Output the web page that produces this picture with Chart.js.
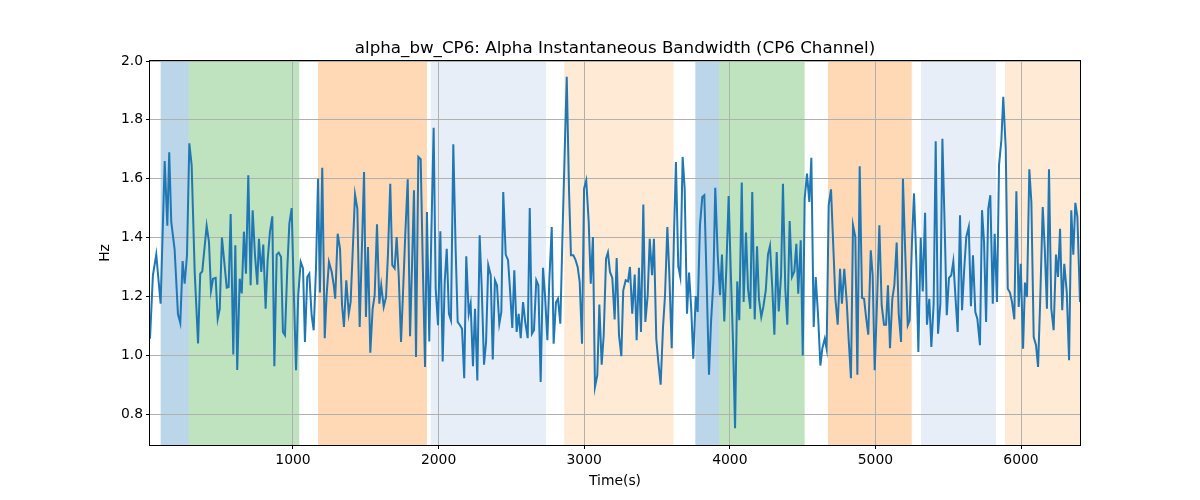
<!DOCTYPE html>
<html><head><meta charset="utf-8">
<script src="https://cdn.jsdelivr.net/npm/chart.js@4.4.0/dist/chart.umd.min.js"></script>
<style>html,body{margin:0;padding:0;background:#fff}</style>
</head><body>
<canvas id="c" width="1200" height="500"></canvas>
<script>
const titleText = 'alpha_bw_CP6: Alpha Instantaneous Bandwidth (CP6 Channel)';
const xLabel = 'Time(s)';
const yLabel = 'Hz';

const timeS = [18,38,61,91,119,137,150,164,187,210,226,242,256,272,288,304,325,348,363,377,407,423,437,451,469,483,497,512,545,558,572,590,604,617,634,648,663,
677,693,709,723,739,755,766,782,796,812,826,842,858,872,888,902,918,931,945,961,975,991,1005,1021,1036,1053,1069,1082,1098,1112,1128,1142,1158,1172,1185,1201,1218,1231,1247,1266,
1280,1290,1307,1323,1337,1350,1366,1383,1396,1410,1426,1442,1458,1488,1501,1515,1531,1547,1561,1577,1593,1606,1623,1639,1652,1668,1682,1698,1712,1726,1742,1755,1771,1788,1804,1817,1831,1845,1861,1877,1891,1907,1920,
1936,1950,1966,1980,1996,2012,2028,2042,2056,2071,2085,2101,2117,2131,2147,2161,2176,2190,2207,2220,2236,2250,2266,2282,2296,2312,2326,2341,2358,2372,2387,2401,2417,2431,2444,2461,2477,2490,2506,2520,2536,2550,
2564,2580,2595,2612,2626,2641,2655,2671,2685,2701,2717,2731,2747,2760,2777,2790,2806,2820,2836,2852,2866,2880,2896,2909,2925,2939,2955,2969,2985,2999,3014,3031,3045,3060,3074,3090,3104,3120,3134,3150,3163,
3177,3193,3209,3223,3239,3255,3268,3285,3301,3314,3330,3347,3360,3376,3390,3406,3420,3436,3450,3466,3479,3495,3509,3525,3541,3555,3571,3584,3601,3617,3630,3646,3660,3676,3690,3706,3720,3735,3749,3766,3779,3795,3811,
3825,3841,3857,3871,3887,3900,3917,3933,3946,3962,3976,3992,4006,4022,4036,4051,4065,4082,4095,4111,4125,4141,4154,4171,4187,4200,4216,4230,4247,4262,4276,4292,4306,4322,4336,4352,4365,4381,4395,4411,4427,4443,
4457,4470,4487,4501,4514,4530,4546,4560,4576,4590,4606,4622,4635,4652,4665,4679,4695,4709,4725,4741,4757,4770,4786,4803,4816,4832,4846,4862,4876,4892,4908,4922,4937,4951,4968,4981,4995,5011,5027,5043,5059,5073,
5086,5100,5116,5130,5146,5160,5176,5189,5205,5222,5235,5251,5265,5281,5295,5311,5325,5341,5354,5370,5384,5400,5414,5430,5446,5460,5476,5490,5505,5521,5535,5551,5565,5581,5595,5610,5624,5641,5656,5670,5686,5700,
5718,5732,5746,5760,5775,5789,5806,5819,5835,5849,5865,5878,5895,5909,5924,5938,5954,5968,5984,5998,6014,6027,6041,6057,6071,6087,6103,6117,6132,6149,6163,6178,6192,6208,6224,6240,6254,6268,6283,6297,6314,6330,6345,6359,6373,6387,6405];

const bwHz = [1.056,1.272,1.342,1.175,1.66,1.44,1.69,1.453,1.36,1.14,1.11,1.32,1.243,1.34,1.72,1.646,1.283,1.04,1.277,1.285,1.44,1.385,1.22,1.26,1.263,1.124,1.158,1.4,1.23,1.232,1.48,1.003,1.374,0.95,1.26,1.21,1.42,
1.277,1.612,1.238,1.493,1.34,1.24,1.396,1.283,1.376,1.158,1.323,1.42,1.472,0.963,1.342,1.349,1.334,1.079,1.068,1.295,1.447,1.5,1.226,0.949,1.204,1.317,1.295,1.045,1.266,1.277,1.136,1.085,1.295,1.6,1.213,1.637,1.058,1.204,1.317,1.283,
1.238,1.192,1.413,1.362,1.17,1.096,1.255,1.141,1.181,1.351,1.546,1.498,1.096,1.623,1.13,1.368,1.009,1.158,1.204,1.445,1.175,1.238,1.164,1.198,1.34,1.583,1.306,1.295,1.402,1.272,1.045,1.204,1.408,1.598,1.065,1.295,1.561,0.994,1.674,1.666,1.317,0.96,1.487,
1.047,1.408,1.773,1.226,1.102,1.421,0.979,1.249,1.362,1.141,1.119,1.717,1.362,1.113,1.102,1.09,0.922,1.336,1.141,1.175,0.963,1.158,0.914,1.408,1.232,0.968,1.045,1.306,1.272,0.986,1.255,1.238,1.107,1.147,1.555,1.342,1.323,1.226,1.093,1.289,1.079,1.141,
1.058,1.181,1.113,1.058,1.5,1.073,1.085,1.255,1.238,0.909,1.297,1.204,1.051,1.249,1.436,1.039,1.179,1.192,1.107,1.43,1.691,1.946,1.555,1.34,1.34,1.326,1.3,1.249,1.039,1.566,1.594,1.453,1.243,1.402,0.892,0.932,1.172,0.968,1.068,1.328,1.349,
1.283,1.263,1.122,1.33,1.068,0.997,1.22,1.255,1.251,1.3,1.141,1.274,1.051,1.297,1.079,1.512,1.113,1.204,1.396,1.272,1.396,1.056,0.977,0.9,1.093,1.204,1.436,1.283,1.024,1.419,1.657,1.303,1.266,1.674,1.566,1.141,1.281,1.158,0.988,1.201,1.147,1.442,1.538,
1.544,1.249,0.934,1.113,1.249,1.569,1.34,1.204,1.342,1.115,1.294,1.541,1.294,1.045,0.752,1.251,1.119,1.587,1.181,1.417,1.226,1.158,1.555,1.122,1.37,1.192,1.13,1.164,1.22,1.342,1.372,1.226,1.07,1.351,1.149,1.272,1.583,1.226,1.104,1.456,1.266,1.285,
1.379,1.209,1.391,0.999,1.532,1.617,1.521,1.671,1.096,1.266,1.136,0.965,1.022,1.056,1.022,1.51,1.564,1.391,1.192,1.104,1.294,1.175,1.294,1.181,1.056,0.922,1.442,1.402,0.934,1.642,1.195,1.192,1.124,1.07,1.357,1.272,0.949,1.181,1.442,1.17,1.104,1.104,
1.238,1.024,1.192,1.238,1.383,1.141,1.045,1.6,1.345,1.102,1.119,1.385,1.55,1.319,1.011,1.399,1.217,1.484,1.104,1.192,1.028,1.175,1.727,1.073,1.175,1.736,1.43,1.136,1.263,1.272,1.319,1.187,1.079,1.476,1.153,1.294,1.402,1.436,1.167,1.34,1.147,1.124,
1.034,1.493,1.385,1.113,1.498,1.544,1.175,1.413,1.181,1.646,1.731,1.878,1.702,1.226,1.213,1.181,1.122,1.557,1.164,1.311,1.022,1.247,1.198,1.632,1.521,1.062,1.034,0.96,1.192,1.504,1.362,1.158,1.632,1.158,1.085,1.342,1.266,1.43,1.153,1.311,1.215,0.983,1.493,1.342,1.518,1.47,1.181];

const spanStart = [91, 285, 1172, 1946, 2863, 3763, 3928, 4674, 5313, 5890];
const spanEnd   = [285, 1043, 1920, 2738, 3614, 3928, 4514, 5249, 5828, 6405];
const spanColor = ['rgba(31,119,180,0.3)','rgba(44,160,44,0.3)','rgba(255,127,14,0.3)','rgba(174,199,232,0.3)','rgba(255,187,120,0.3)',
                   'rgba(31,119,180,0.3)','rgba(44,160,44,0.3)','rgba(255,127,14,0.3)','rgba(174,199,232,0.3)','rgba(255,187,120,0.3)'];

const xTicks = [1000, 2000, 3000, 4000, 5000, 6000];
const yTicks = [0.8, 1.0, 1.2, 1.4, 1.6, 1.8, 2.0];
const xRange = [18, 6405];
const yRange = [0.695, 2.0];

const FONT = "'DejaVu Sans', sans-serif";

const decor = {
  id: 'decor',
  beforeDraw(chart) {
    const {ctx, chartArea: a, scales: {x}} = chart;
    ctx.save();
    ctx.fillStyle = '#fff';
    ctx.fillRect(0, 0, chart.width, chart.height);
    ctx.beginPath();
    ctx.rect(a.left, a.top, a.right - a.left, a.bottom - a.top);
    ctx.clip();
    for (let i = 0; i < spanStart.length; i++) {
      const x0 = x.getPixelForValue(spanStart[i]);
      const x1 = x.getPixelForValue(spanEnd[i]);
      ctx.fillStyle = spanColor[i];
      ctx.fillRect(x0, a.top, x1 - x0, a.bottom - a.top);
    }
    ctx.restore();
  },
  afterDraw(chart) {
    const {ctx, chartArea: a} = chart;
    ctx.save();
    ctx.strokeStyle = '#000';
    ctx.lineWidth = 1;
    ctx.strokeRect(Math.round(a.left) - 0.5, Math.round(a.top) - 0.5, Math.round(a.right - a.left) + 1, Math.round(a.bottom - a.top) + 1);
    ctx.fillStyle = '#000';
    ctx.font = '16.7px ' + FONT;
    ctx.textAlign = 'center';
    ctx.textBaseline = 'alphabetic';
    ctx.fillText(titleText, (a.left + a.right) / 2, 52.5);
    ctx.restore();
  }
};

new Chart(document.getElementById('c'), {
  type: 'line',
  data: {
    datasets: [{
      data: timeS.map((t, i) => ({x: t, y: bwHz[i]})),
      borderColor: '#1f77b4',
      borderWidth: 2,
      pointRadius: 0,
      tension: 0,
      fill: false
    }]
  },
  options: {
    responsive: false,
    animation: false,
    devicePixelRatio: 1,
    layout: {padding: {top: 61, right: 120, bottom: 0, left: 0}},
    plugins: {legend: {display: false}, tooltip: {enabled: false}, title: {display: false}},
    scales: {
      x: {
        type: 'linear',
        min: xRange[0], max: xRange[1],
        afterBuildTicks(s) { s.ticks = xTicks.map(v => ({value: v})); },
        afterFit(s) { s.height = 55; },
        ticks: {color: '#000', font: {family: FONT, size: 13.9}, padding: 3, maxRotation: 0, autoSkip: false,
                callback: v => String(v)},
        grid: {color: '#b0b0b0', lineWidth: 1, tickLength: 4, tickColor: '#000', tickWidth: 1},
        border: {display: false},
        title: {display: true, text: xLabel, color: '#000', font: {family: FONT, size: 13.9}, padding: {top: 0, bottom: 10}}
      },
      y: {
        type: 'linear',
        min: yRange[0], max: yRange[1],
        afterBuildTicks(s) { s.ticks = yTicks.map(v => ({value: v})); },
        afterFit(s) { s.width = 150; },
        ticks: {color: '#000', font: {family: FONT, size: 13.9}, padding: 3, autoSkip: false,
                callback: v => Number(v).toFixed(1)},
        grid: {color: '#b0b0b0', lineWidth: 1, tickLength: 4, tickColor: '#000', tickWidth: 1},
        border: {display: false},
        title: {display: true, text: yLabel, color: '#000', font: {family: FONT, size: 13.9}, padding: {top: 97, bottom: 0}}
      }
    }
  },
  plugins: [decor]
});
</script>
</body></html>
